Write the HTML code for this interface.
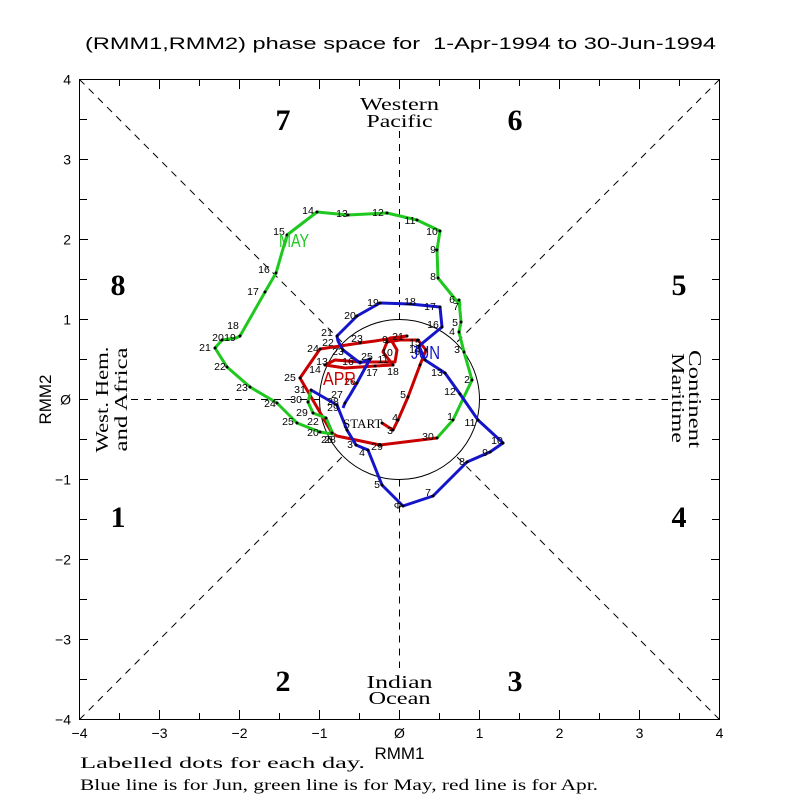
<!DOCTYPE html>
<html><head><meta charset="utf-8"><style>
html,body{margin:0;padding:0;background:#fff;}
svg{display:block;}
.s{font-family:"Liberation Sans",sans-serif;}
.f{font-family:"Liberation Serif",serif;}
.lb{font-family:"Liberation Sans",sans-serif;font-size:10.5px;fill:#000;text-anchor:middle;dominant-baseline:central;}
</style></head><body>
<svg width="800" height="800" viewBox="0 0 800 800" xmlns="http://www.w3.org/2000/svg">
<rect width="800" height="800" fill="#fff"/>
<text class="s" x="85" y="49" font-size="17" textLength="631" lengthAdjust="spacingAndGlyphs" style="white-space:pre">(RMM1,RMM2) phase space for  1-Apr-1994 to 30-Jun-1994</text>

<rect x="79.5" y="79.5" width="640" height="640" fill="none" stroke="#000" stroke-width="1"/>
<path stroke="#000" stroke-width="1" fill="none" d="
M119.5 719.5V713M199.5 719.5V713M279.5 719.5V713M359.5 719.5V713M439.5 719.5V713M519.5 719.5V713M599.5 719.5V713M679.5 719.5V713
M159.5 719.5V710M239.5 719.5V710M319.5 719.5V710M399.5 719.5V710M479.5 719.5V710M559.5 719.5V710M639.5 719.5V710
M119.5 79.5V86M199.5 79.5V86M279.5 79.5V86M359.5 79.5V86M439.5 79.5V86M519.5 79.5V86M599.5 79.5V86M679.5 79.5V86
M159.5 79.5V89M239.5 79.5V89M319.5 79.5V89M399.5 79.5V89M479.5 79.5V89M559.5 79.5V89M639.5 79.5V89
M79.5 119.5H87M79.5 199.5H87M79.5 279.5H87M79.5 359.5H87M79.5 439.5H87M79.5 519.5H87M79.5 599.5H87M79.5 679.5H87
M79.5 159.5H88M79.5 239.5H88M79.5 319.5H88M79.5 399.5H88M79.5 479.5H88M79.5 559.5H88M79.5 639.5H88
M719.5 119.5H712M719.5 199.5H712M719.5 279.5H712M719.5 359.5H712M719.5 439.5H712M719.5 519.5H712M719.5 599.5H712M719.5 679.5H712
M719.5 159.5H711M719.5 239.5H711M719.5 319.5H711M719.5 399.5H711M719.5 479.5H711M719.5 559.5H711M719.5 639.5H711"/>

<g class="s" font-size="14" fill="#000" text-anchor="middle">
<text x="79.5" y="738">−4</text><text x="159.5" y="738">−3</text><text x="239.5" y="738">−2</text><text x="319.5" y="738">−1</text>
<text x="399.5" y="738">Ø</text><text x="479.5" y="738">1</text><text x="559.5" y="738">2</text><text x="639.5" y="738">3</text><text x="719.5" y="738">4</text>
</g>
<g class="s" font-size="14" fill="#000" text-anchor="end">
<text x="71" y="84.5">4</text><text x="71" y="164.5">3</text><text x="71" y="244.5">2</text><text x="71" y="324.5">1</text>
<text x="71" y="404.5">Ø</text><text x="71" y="484.5">−1</text><text x="71" y="564.5">−2</text><text x="71" y="644.5">−3</text><text x="71" y="724.5">−4</text>
</g>
<text class="s" x="399.5" y="759" font-size="17" text-anchor="middle" textLength="50" lengthAdjust="spacingAndGlyphs">RMM1</text>
<text class="s" font-size="17" text-anchor="middle" transform="translate(51,399.5) rotate(-90)" textLength="50" lengthAdjust="spacingAndGlyphs">RMM2</text>

<text class="f" x="80" y="768" font-size="15.5" textLength="285" lengthAdjust="spacingAndGlyphs">Labelled dots for each day.</text>
<text class="f" x="80" y="790" font-size="15.5" textLength="518" lengthAdjust="spacingAndGlyphs">Blue line is for Jun, green line is for May, red line is for Apr.</text>

<g stroke="#000" stroke-width="1" stroke-dasharray="7,6" fill="none">
<path d="M399.5 131V319.5M399.5 479.5V668M131 399.5H319.5M479.5 399.5H668"/>
<path d="M79.5 79.5L342.9 342.9M719.5 79.5L456.1 342.9M79.5 719.5L342.9 456.1M719.5 719.5L456.1 456.1"/>
</g>
<circle cx="399.5" cy="399.5" r="80" fill="none" stroke="#000" stroke-width="1"/>

<g class="f" font-size="18" fill="#000" text-anchor="middle">
<text x="399.5" y="110" textLength="79" lengthAdjust="spacingAndGlyphs">Western</text>
<text x="399.5" y="127" textLength="66" lengthAdjust="spacingAndGlyphs">Pacific</text>
<text x="399.5" y="688" textLength="66" lengthAdjust="spacingAndGlyphs">Indian</text>
<text x="399.5" y="704" textLength="62" lengthAdjust="spacingAndGlyphs">Ocean</text>
<text transform="translate(108,399.5) rotate(-90)" textLength="106" lengthAdjust="spacingAndGlyphs">West. Hem.</text>
<text transform="translate(127,399.5) rotate(-90)" textLength="104" lengthAdjust="spacingAndGlyphs">and Africa</text>
<text transform="translate(672,398) rotate(90)" textLength="90" lengthAdjust="spacingAndGlyphs">Maritime</text>
<text transform="translate(689,399) rotate(90)" textLength="98" lengthAdjust="spacingAndGlyphs">Continent</text>
</g>
<g class="f" font-size="30" font-weight="bold" fill="#000" text-anchor="middle">
<text x="283" y="130">7</text><text x="515" y="130">6</text>
<text x="118" y="295">8</text><text x="679" y="295">5</text>
<text x="118" y="527">1</text><text x="679" y="527">4</text>
<text x="283" y="691">2</text><text x="515" y="691">3</text>
</g>

<!-- April (red) -->
<polyline fill="none" stroke="#c80000" stroke-width="3" stroke-linejoin="round" points="382,423 393,430 398,420 408,397 420,365 426,350 418,340 400,340 387,342 383,352 393,365 375,366 345,368 325,365 335,360 360,362 395,362 397,350 390,338 407,336 375,341 360,343 320,349 300,378 332,433 337,436 380,445 437,438"/>
<!-- May (green) -->
<polyline fill="none" stroke="#1ec81e" stroke-width="3" stroke-linejoin="round" points="437,438 453,420 472,380 464,352 459,332 461,322 459,300 460,305 438,278 437,250 440,231 417,220 387,213 348,215 317,212 287,235 276,273 265,292 240,336 236,338 222,340 215,348 227,367 250,387 277,403 297,423 320,432 333,434 326,418 313,413 308,402 311,390"/>
<!-- June (blue) -->
<polyline fill="none" stroke="#1414c8" stroke-width="3" stroke-linejoin="round" points="311,390 337,405 347,430 356,445 368,450 382,485 403,506 433,496 467,462 490,452 503,443 478,420 460,394 445,373 425,360 419,346 442,327 440,307 410,304 380,303 357,316 337,336 338,341 343,350 360,363 370,359 357,383 350,395 345,403 343,408"/>

<g fill="#000">
<circle cx="382" cy="423" r="1.5"/><circle cx="393" cy="430" r="1.5"/><circle cx="398" cy="420" r="1.5"/><circle cx="408" cy="397" r="1.5"/><circle cx="420" cy="365" r="1.5"/><circle cx="426" cy="350" r="1.5"/><circle cx="418" cy="340" r="1.5"/><circle cx="387" cy="342" r="1.5"/><circle cx="393" cy="365" r="1.5"/><circle cx="375" cy="366" r="1.5"/><circle cx="325" cy="365" r="1.5"/><circle cx="360" cy="362" r="1.5"/><circle cx="407" cy="336" r="1.5"/><circle cx="360" cy="343" r="1.5"/><circle cx="320" cy="349" r="1.5"/><circle cx="300" cy="378" r="1.5"/><circle cx="332" cy="433" r="1.5"/><circle cx="380" cy="445" r="1.5"/><circle cx="437" cy="438" r="1.5"/>
<circle cx="453" cy="420" r="1.5"/><circle cx="472" cy="380" r="1.5"/><circle cx="464" cy="352" r="1.5"/><circle cx="459" cy="332" r="1.5"/><circle cx="461" cy="322" r="1.5"/><circle cx="459" cy="300" r="1.5"/><circle cx="438" cy="278" r="1.5"/><circle cx="437" cy="250" r="1.5"/><circle cx="440" cy="231" r="1.5"/><circle cx="417" cy="220" r="1.5"/><circle cx="387" cy="213" r="1.5"/><circle cx="348" cy="215" r="1.5"/><circle cx="317" cy="212" r="1.5"/><circle cx="287" cy="235" r="1.5"/><circle cx="276" cy="273" r="1.5"/><circle cx="265" cy="292" r="1.5"/><circle cx="240" cy="336" r="1.5"/><circle cx="222" cy="340" r="1.5"/><circle cx="215" cy="348" r="1.5"/><circle cx="227" cy="367" r="1.5"/><circle cx="250" cy="387" r="1.5"/><circle cx="277" cy="403" r="1.5"/><circle cx="297" cy="423" r="1.5"/><circle cx="320" cy="432" r="1.5"/><circle cx="326" cy="418" r="1.5"/><circle cx="313" cy="413" r="1.5"/><circle cx="308" cy="402" r="1.5"/><circle cx="311" cy="390" r="1.5"/>
<circle cx="337" cy="405" r="1.5"/><circle cx="347" cy="430" r="1.5"/><circle cx="356" cy="445" r="1.5"/><circle cx="368" cy="450" r="1.5"/><circle cx="382" cy="485" r="1.5"/><circle cx="403" cy="506" r="1.5"/><circle cx="433" cy="496" r="1.5"/><circle cx="467" cy="462" r="1.5"/><circle cx="490" cy="452" r="1.5"/><circle cx="503" cy="443" r="1.5"/><circle cx="478" cy="420" r="1.5"/><circle cx="460" cy="394" r="1.5"/><circle cx="445" cy="373" r="1.5"/><circle cx="425" cy="360" r="1.5"/><circle cx="419" cy="346" r="1.5"/><circle cx="442" cy="327" r="1.5"/><circle cx="440" cy="307" r="1.5"/><circle cx="410" cy="304" r="1.5"/><circle cx="380" cy="303" r="1.5"/><circle cx="357" cy="316" r="1.5"/><circle cx="337" cy="336" r="1.5"/><circle cx="343" cy="350" r="1.5"/><circle cx="370" cy="359" r="1.5"/><circle cx="357" cy="383" r="1.5"/><circle cx="345" cy="403" r="1.5"/>
</g>

<g class="lb">
<!-- May labels -->
<text x="450" y="417">1</text><text x="467" y="380">2</text><text x="457" y="350">3</text><text x="452" y="332">4</text><text x="455" y="323">5</text><text x="452" y="300">6</text><text x="456" y="307">7</text>
<text x="433" y="277">8</text><text x="433" y="250">9</text><text x="432" y="232">10</text><text x="410" y="221">11</text><text x="378" y="213">12</text><text x="342" y="214">13</text><text x="308" y="211">14</text>
<text x="279" y="232">15</text><text x="264" y="270">16</text><text x="253" y="292">17</text><text x="233" y="326">18</text><text x="230" y="338">19</text><text x="218" y="338">20</text><text x="205" y="348">21</text>
<text x="220" y="367">22</text><text x="242" y="388">23</text><text x="270" y="404">24</text><text x="288" y="422">25</text><text x="313" y="433">20</text><text x="313" y="422">22</text><text x="302" y="413">29</text><text x="293" y="400">−30</text><text x="300" y="390">31</text><text x="327" y="440">26</text>
<!-- June labels -->
<text x="350" y="445">3</text><text x="362" y="453">4</text><text x="377" y="485">5</text><text x="398" y="506">Φ</text><text x="428" y="493">7</text><text x="462" y="462">8</text><text x="485" y="453">9</text><text x="497" y="441">10</text>
<text x="470" y="423">11</text><text x="450" y="392">12</text><text x="437" y="373">13</text><text x="415" y="350">14</text><text x="415" y="343">15</text><text x="433" y="325">16</text><text x="430" y="307">17</text><text x="410" y="302">18</text><text x="373" y="303">19</text>
<text x="350" y="316">20</text><text x="327" y="333">21</text><text x="328" y="343">22</text><text x="338" y="352">23</text><text x="367" y="357">25</text><text x="350" y="382">26</text><text x="337" y="395">27</text><text x="333" y="402">28</text><text x="333" y="408">29</text>
<!-- April labels -->
<text x="390" y="431">3</text><text x="395" y="418">4</text><text x="403" y="395">5</text><text x="417" y="352">6</text><text x="385" y="340">9</text><text x="387" y="353">10</text><text x="383" y="360">11</text><text x="322" y="362">13</text><text x="315" y="370">14</text>
<text x="348" y="362">16</text><text x="372" y="373">17</text><text x="393" y="372">18</text><text x="398" y="337">21</text><text x="357" y="339">23</text><text x="313" y="349">24</text><text x="290" y="378">25</text><text x="330" y="440">28</text><text x="377" y="447">29</text><text x="428" y="437">30</text>
</g>
<text class="f" x="343" y="428" font-size="13" fill="#000">START</text>

<text class="s" x="279" y="247" font-size="18" fill="#1ec81e" textLength="30" lengthAdjust="spacingAndGlyphs">MAY</text>
<text class="s" x="323" y="385" font-size="18" fill="#c80000" textLength="33" lengthAdjust="spacingAndGlyphs">APR</text>
<text class="s" x="411" y="359" font-size="18" fill="#1414c8" textLength="29" lengthAdjust="spacingAndGlyphs">JUN</text>
</svg>
</body></html>
